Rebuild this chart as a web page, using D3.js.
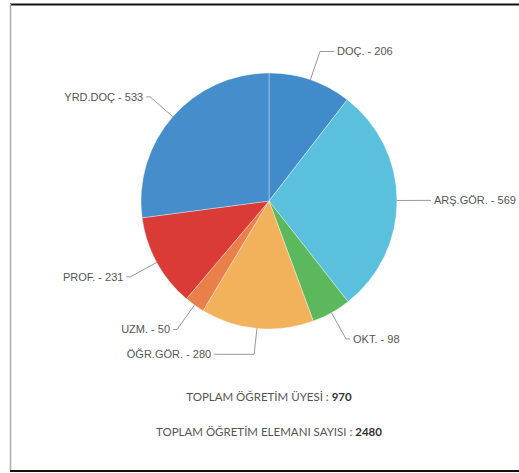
<!DOCTYPE html>
<html>
<head>
<meta charset="utf-8">
<script src="https://cdn.jsdelivr.net/npm/d3@7"></script>
<style>
  body { margin: 0; background: #fff; }
  svg { display: block; }
</style>
</head>
<body>
<div id="chart"></div>
<script>
// verileri
var categories = ["DOÇ.", "ARŞ.GÖR.", "OKT.", "ÖĞR.GÖR.", "UZM.", "PROF.", "YRD.DOÇ"];
var values = [206, 569, 98, 280, 50, 231, 533];
var colors = ["#428bca", "#5bc0de", "#5cb85c", "#f2b25c", "#ea7f4a", "#da3b37", "#468dcb"];
var totalLabels = ["TOPLAM ÖĞRETİM ÜYESİ : ", "TOPLAM ÖĞRETİM ELEMANI SAYISI : "];
var totalValues = [970, 2480];

var width = 519, height = 473;
var cx = 269, cy = 201, radius = 128, labelDist = 30;

// bazı etiketler biraz kaydırılmış (yatay bağlantı uzunluğu)
var extraArm = { "DOÇ.": 10, "ÖĞR.GÖR.": 36 };
var extraY = { "ÖĞR.GÖR.": -4 };

var svg = d3.select("#chart")
    .append("svg")
    .attr("width", width)
    .attr("height", height);

// çerçeve
svg.append("line").attr("x1", 10).attr("x2", width).attr("y1", 4.5).attr("y2", 4.5)
    .attr("stroke", "#111").attr("stroke-width", 2);
svg.append("line").attr("x1", 10.5).attr("x2", 10.5).attr("y1", 4).attr("y2", 471)
    .attr("stroke", "#aaa").attr("stroke-width", 1.5);
svg.append("line").attr("x1", 10).attr("x2", width).attr("y1", 471).attr("y2", 471)
    .attr("stroke", "#111").attr("stroke-width", 2);

var data = categories.map((c, i) => ({ name: c, value: values[i], color: colors[i] }));

var pie = d3.pie().sort(null).value(d => d.value);
var arcs = pie(data);

var arc = d3.arc().innerRadius(0).outerRadius(radius);

var g = svg.append("g").attr("transform", "translate(" + cx + "," + cy + ")");

g.selectAll("path")
    .data(arcs)
    .enter()
    .append("path")
    .attr("d", arc)
    .attr("fill", d => d.data.color)
    .attr("stroke", "#fff")
    .attr("stroke-width", 0.6)
    .attr("stroke-opacity", 0.6);

// etiketler ve bağlantı çizgileri
arcs.forEach(d => {
    var a = (d.startAngle + d.endAngle) / 2;
    var left = a > Math.PI;
    var sx = Math.sin(a), sy = -Math.cos(a);
    var p0 = [sx * radius, sy * radius];
    var p1 = [sx * (radius + labelDist), sy * (radius + labelDist) + (extraY[d.data.name] || 0)];
    var arm = 4 + (extraArm[d.data.name] || 0);
    var p2 = [p1[0] + (left ? -arm : arm), p1[1]];

    g.append("path")
        .attr("d", d3.line()([p0, p1, p2]))
        .attr("fill", "none")
        .attr("stroke", "#999")
        .attr("stroke-width", 1);

    g.append("text")
        .attr("x", p2[0] + (left ? -3 : 3))
        .attr("y", p2[1])
        .attr("dy", "0.35em")
        .attr("text-anchor", left ? "end" : "start")
        .attr("font-family", "Liberation Sans, Arial, sans-serif")
        .attr("font-size", 11)
        .attr("fill", "#555")
        .text(d.data.name + " - " + d.data.value);
});

// toplamlar
var ty = [397, 432];
totalLabels.forEach((t, i) => {
    var txt = svg.append("text")
        .attr("x", cx)
        .attr("y", ty[i])
        .attr("dy", "0.35em")
        .attr("text-anchor", "middle")
        .attr("font-family", "Lato, sans-serif")
        .attr("font-size", 11.5)
        .attr("fill", "#555");
    txt.append("tspan").text(t);
    txt.append("tspan").attr("font-weight", "bold").attr("fill", "#333").text(totalValues[i]);
});
</script>
</body>
</html>
